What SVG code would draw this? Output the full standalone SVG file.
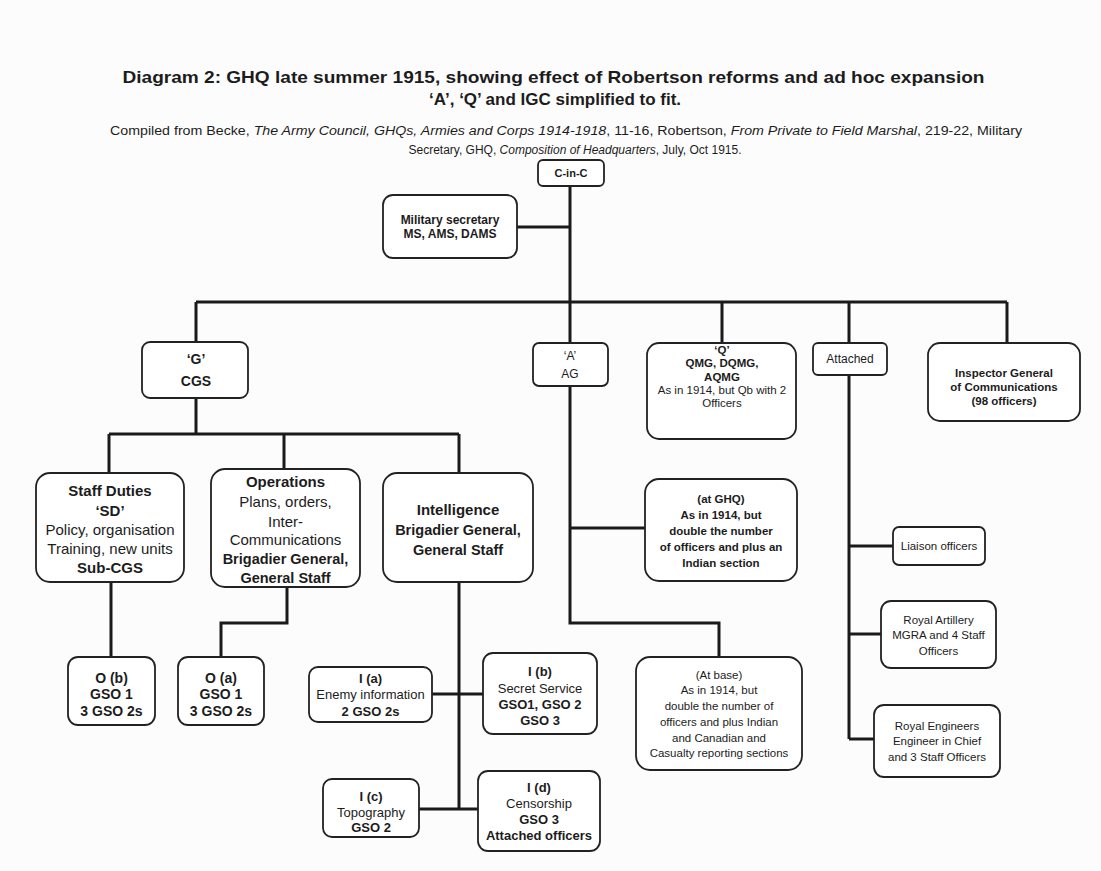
<svg xmlns="http://www.w3.org/2000/svg" width="1101" height="871" viewBox="0 0 1101 871">
<style>
text { font-family: "Liberation Sans", Arial, sans-serif; fill: #1c1c1c; text-anchor: middle; }
.b { font-weight: bold; }
.box { fill: #ffffff; stroke: #222222; stroke-width: 1.8; }
.conn { stroke: #1a1a1a; stroke-width: 3; fill: none; stroke-linejoin: miter; }
.t { font-size: 17px; font-weight: bold; }
.src { font-size: 12px; }
.f11 { font-size: 11.5px; }
.f12 { font-size: 12px; }
.f13 { font-size: 13px; }
.f14 { font-size: 14px; }
.f15 { font-size: 15px; }
</style>
<rect x="0" y="0" width="1101" height="871" fill="#fcfcfc"/>

<g id="title">
<text class="t" x="553.5" y="83" textLength="862" lengthAdjust="spacingAndGlyphs">Diagram 2: GHQ late summer 1915, showing effect of Robertson reforms and ad hoc expansion</text>
<text class="t" x="555" y="105">‘A’, ‘Q’ and IGC simplified to fit.</text>
<text class="src" x="566" y="135" textLength="912" lengthAdjust="spacingAndGlyphs">Compiled from Becke, <tspan font-style="italic">The Army Council, GHQs, Armies and Corps 1914-1918</tspan>, 11-16, Robertson, <tspan font-style="italic">From Private to Field Marshal</tspan>, 219-22, Military</text>
<text class="src" x="575" y="154">Secretary, GHQ, <tspan font-style="italic">Composition of Headquarters</tspan>, July, Oct 1915.</text>
</g>

<g id="connectors">
<path class="conn" d="M570,186 V343"/>
<path class="conn" d="M517,227 H570"/>
<path class="conn" d="M196,302 H1007"/>
<path class="conn" d="M196,302 V342"/>
<path class="conn" d="M722,302 V343"/>
<path class="conn" d="M849,302 V343"/>
<path class="conn" d="M1007,302 V343"/>
<path class="conn" d="M196,398 V434"/>
<path class="conn" d="M109,434 H459"/>
<path class="conn" d="M109,434 V473"/>
<path class="conn" d="M284,434 V469"/>
<path class="conn" d="M459,434 V473"/>
<path class="conn" d="M111,582 V657"/>
<path class="conn" d="M287,587 V623 H221 V657"/>
<path class="conn" d="M459,582 V809"/>
<path class="conn" d="M432,694 H483"/>
<path class="conn" d="M419,809 H478"/>
<path class="conn" d="M570,386 V623 H719 V657"/>
<path class="conn" d="M570,528 H645"/>
<path class="conn" d="M849,375 V739"/>
<path class="conn" d="M849,546 H893"/>
<path class="conn" d="M849,634 H881"/>
<path class="conn" d="M849,739 H874"/>
</g>

<g id="cinc">
<rect class="box" x="538" y="160" width="66" height="26" rx="5"/>
<text class="b" font-size="11" x="571" y="177">C-in-C</text>
</g>

<g id="milsec">
<rect class="box" x="383" y="195" width="134" height="63" rx="10"/>
<text class="b f12" x="450" y="224">Military secretary</text>
<text class="b f12" x="450" y="238">MS, AMS, DAMS</text>
</g>

<g id="g-cgs">
<rect class="box" x="142" y="342" width="106" height="56" rx="8"/>
<text class="b f14" x="196" y="364">‘G’</text>
<text class="b f14" x="196" y="386">CGS</text>
</g>

<g id="a-ag">
<rect class="box" x="533" y="343" width="75" height="43" rx="6"/>
<text class="f12" x="570" y="360">‘A’</text>
<text class="f12" x="570" y="378">AG</text>
</g>

<g id="q-qmg">
<rect class="box" x="647" y="343" width="149" height="96" rx="12"/>
<text class="b f11" x="722" y="354">‘Q’</text>
<text class="b f11" x="722" y="367">QMG, DQMG,</text>
<text class="b f11" x="722" y="381">AQMG</text>
<text class="f11" x="722" y="394">As in 1914, but Qb with 2</text>
<text class="f11" x="722" y="407">Officers</text>
</g>

<g id="attached">
<rect class="box" x="813" y="343" width="74" height="32" rx="5"/>
<text class="f12" x="850" y="363">Attached</text>
</g>

<g id="igc">
<rect class="box" x="928" y="343" width="152" height="78" rx="12"/>
<text class="b f11" x="1004" y="377">Inspector General</text>
<text class="b f11" x="1004" y="391">of Communications</text>
<text class="b f11" x="1004" y="405">(98 officers)</text>
</g>

<g id="staff-duties">
<rect class="box" x="36" y="473" width="148" height="109" rx="14"/>
<text class="b f15" x="110" y="496">Staff Duties</text>
<text class="b f15" x="110" y="516">‘SD’</text>
<text class="f15" x="110" y="535">Policy, organisation</text>
<text class="f15" x="110" y="554">Training, new units</text>
<text class="b f15" x="110" y="573">Sub-CGS</text>
</g>

<g id="operations">
<rect class="box" x="211" y="469" width="149" height="118" rx="14"/>
<text class="b f15" x="285.5" y="487">Operations</text>
<text class="f15" x="285.5" y="507">Plans, orders,</text>
<text class="f15" x="285.5" y="527">Inter-</text>
<text class="f15" x="285.5" y="545">Communications</text>
<text class="b" font-size="14.5" x="285.5" y="564">Brigadier General,</text>
<text class="b" font-size="14.5" x="285.5" y="583">General Staff</text>
</g>

<g id="intelligence">
<rect class="box" x="383" y="473" width="150" height="109" rx="14"/>
<text class="b f15" x="458" y="515">Intelligence</text>
<text class="b" font-size="14.5" x="458" y="535">Brigadier General,</text>
<text class="b" font-size="14.5" x="458" y="555">General Staff</text>
</g>

<g id="ob">
<rect class="box" x="68" y="657" width="87" height="68" rx="10"/>
<text class="b f14" x="111.5" y="683">O (b)</text>
<text class="b f14" x="111.5" y="699">GSO 1</text>
<text class="b f14" x="111.5" y="716">3 GSO 2s</text>
</g>

<g id="oa">
<rect class="box" x="178" y="657" width="86" height="68" rx="10"/>
<text class="b f14" x="221" y="683">O (a)</text>
<text class="b f14" x="221" y="699">GSO 1</text>
<text class="b f14" x="221" y="716">3 GSO 2s</text>
</g>

<g id="ia">
<rect class="box" x="309" y="667" width="123" height="55" rx="9"/>
<text class="b f13" x="370.5" y="683">I (a)</text>
<text class="f13" x="370.5" y="699">Enemy information</text>
<text class="b f13" x="370.5" y="716">2 GSO 2s</text>
</g>

<g id="ib">
<rect class="box" x="483" y="653" width="114" height="81" rx="10"/>
<text class="b f13" x="540" y="676">I (b)</text>
<text class="f13" x="540" y="693">Secret Service</text>
<text class="b f13" x="540" y="709">GSO1, GSO 2</text>
<text class="b f13" x="540" y="725">GSO 3</text>
</g>

<g id="ic">
<rect class="box" x="323" y="779" width="96" height="58" rx="9"/>
<text class="b f13" x="371" y="801">I (c)</text>
<text class="f13" x="371" y="817">Topography</text>
<text class="b f13" x="371" y="832">GSO 2</text>
</g>

<g id="id">
<rect class="box" x="478" y="771" width="122" height="80" rx="10"/>
<text class="b f13" x="539" y="792">I (d)</text>
<text class="f13" x="539" y="808">Censorship</text>
<text class="b f13" x="539" y="824">GSO 3</text>
<text class="b f13" x="539" y="840">Attached officers</text>
</g>

<g id="at-ghq">
<rect class="box" x="645" y="479" width="152" height="102" rx="14"/>
<text class="b f11" x="721" y="503">(at GHQ)</text>
<text class="b f11" x="721" y="519">As in 1914, but</text>
<text class="b f11" x="721" y="535">double the number</text>
<text class="b f11" x="721" y="551">of officers and plus an</text>
<text class="b f11" x="721" y="567">Indian section</text>
</g>

<g id="at-base">
<rect class="box" x="636" y="657" width="166" height="113" rx="14"/>
<text class="f11" x="719" y="679">(At base)</text>
<text class="f11" x="719" y="694">As in 1914, but</text>
<text class="f11" x="719" y="710">double the number of</text>
<text class="f11" x="719" y="726">officers and plus Indian</text>
<text class="f11" x="719" y="742">and Canadian and</text>
<text class="f11" x="719" y="757">Casualty reporting sections</text>
</g>

<g id="liaison">
<rect class="box" x="893" y="527" width="92" height="38" rx="6"/>
<text class="f11" x="939" y="550">Liaison officers</text>
</g>

<g id="royal-artillery">
<rect class="box" x="881" y="601" width="115" height="67" rx="10"/>
<text class="f11" x="938.5" y="624">Royal Artillery</text>
<text class="f11" x="938.5" y="639">MGRA and 4 Staff</text>
<text class="f11" x="938.5" y="655">Officers</text>
</g>

<g id="royal-engineers">
<rect class="box" x="874" y="705" width="126" height="72" rx="10"/>
<text class="f11" x="937" y="730">Royal Engineers</text>
<text class="f11" x="937" y="745">Engineer in Chief</text>
<text class="f11" x="937" y="761">and 3 Staff Officers</text>
</g>
</svg>
